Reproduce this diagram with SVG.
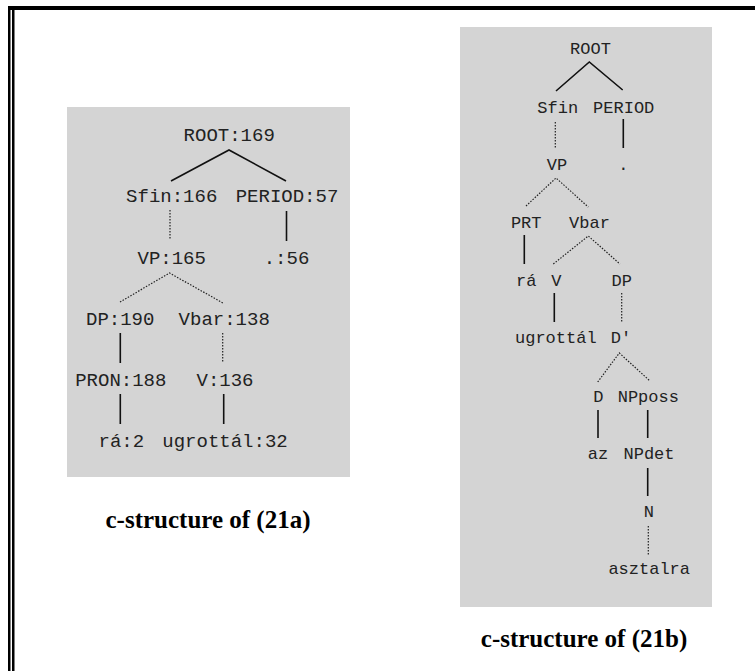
<svg xmlns="http://www.w3.org/2000/svg" width="755" height="671" viewBox="0 0 755 671">
<style>
.panel{fill:#d4d4d4}
.t1{font-family:"Liberation Mono","Courier New",monospace;font-size:19px;fill:#222;text-anchor:middle}
.t2{font-family:"Liberation Mono","Courier New",monospace;font-size:17px;fill:#222;text-anchor:middle}
.cap{font-family:"Liberation Serif","Times New Roman",serif;font-weight:bold;font-size:25px;fill:#000;text-anchor:middle}
.solid{stroke:#111;stroke-width:1.6;fill:none}
.dot{stroke:#222;stroke-width:1.2;stroke-dasharray:1.5 1.5;fill:none}
.frame{fill:#000}
</style>
<rect width="755" height="671" fill="#fff"/>
<g id="frame">
<rect class="frame" x="8" y="6" width="747" height="4"/>
<rect class="frame" x="8" y="6" width="2.5" height="665"/>
<rect class="frame" x="12" y="10" width="2.5" height="661"/>
</g>
<rect class="panel" x="67" y="107" width="283" height="370"/>
<rect class="panel" x="460" y="27" width="252" height="580"/>
<g id="connectors">
<path class="solid" d="M171,181 L229,150 L286,181"/>
<path class="dot" d="M170,210 V240"/>
<path class="solid" d="M286.5,211 V241"/>
<path class="dot" d="M120,302 L169.5,273 L223,303"/>
<path class="solid" d="M120.3,333 V363"/>
<path class="dot" d="M222.7,333 V362"/>
<path class="solid" d="M120.3,394 V424"/>
<path class="solid" d="M223.7,394 V424"/>
<path class="solid" d="M556,91 L589.3,62 L622.7,90"/>
<path class="dot" d="M555.3,122 V148"/>
<path class="solid" d="M623.3,119 V148"/>
<path class="dot" d="M526,206 L556,178 L588.3,207"/>
<path class="solid" d="M524.3,235 V264"/>
<path class="dot" d="M553.3,264 L588.3,236 L620,264"/>
<path class="solid" d="M554.3,293 V322"/>
<path class="dot" d="M621.7,293 V322"/>
<path class="dot" d="M597.7,382 L619.3,353 L650,381"/>
<path class="solid" d="M598,410 V438"/>
<path class="solid" d="M647.7,410 V438"/>
<path class="solid" d="M647.7,468 V496"/>
<path class="dot" d="M648.3,526 V555"/>
</g>
<g id="tree-a">
<g id="a-root"><text class="t1" x="229.2" y="141">ROOT:169</text></g>
<g id="a-sfin"><text class="t1" x="171.7" y="202">Sfin:166</text></g>
<g id="a-period"><text class="t1" x="287" y="202">PERIOD:57</text></g>
<g id="a-vp"><text class="t1" x="171.7" y="264">VP:165</text></g>
<g id="a-dot"><text class="t1" x="286.5" y="264">.:56</text></g>
<g id="a-dp"><text class="t1" x="120.2" y="325">DP:190</text></g>
<g id="a-vbar"><text class="t1" x="224.2" y="325">Vbar:138</text></g>
<g id="a-pron"><text class="t1" x="120.8" y="386">PRON:188</text></g>
<g id="a-v"><text class="t1" x="225" y="386">V:136</text></g>
<g id="a-ra"><text class="t1" x="121.3" y="447">rá:2</text></g>
<g id="a-ugrottal"><text class="t1" x="225" y="447">ugrottál:32</text></g>
</g>
<g id="tree-b">
<g id="b-root"><text class="t2" x="590.5" y="54">ROOT</text></g>
<g id="b-sfin"><text class="t2" x="557.7" y="113">Sfin</text></g>
<g id="b-period"><text class="t2" x="623.7" y="113">PERIOD</text></g>
<g id="b-vp"><text class="t2" x="557" y="170">VP</text></g>
<g id="b-dot"><text class="t2" x="623.3" y="170">.</text></g>
<g id="b-prt"><text class="t2" x="526.2" y="228">PRT</text></g>
<g id="b-vbar"><text class="t2" x="589.5" y="228">Vbar</text></g>
<g id="b-ra"><text class="t2" x="526.2" y="286">rá</text></g>
<g id="b-v"><text class="t2" x="556.3" y="286">V</text></g>
<g id="b-dp"><text class="t2" x="621.7" y="286">DP</text></g>
<g id="b-ugrottal"><text class="t2" x="555.8" y="343">ugrottál</text></g>
<g id="b-dbar"><text class="t2" x="621" y="343">D'</text></g>
<g id="b-d"><text class="t2" x="598.3" y="402">D</text></g>
<g id="b-npposs"><text class="t2" x="648.3" y="402">NPposs</text></g>
<g id="b-az"><text class="t2" x="598" y="459">az</text></g>
<g id="b-npdet"><text class="t2" x="649" y="459">NPdet</text></g>
<g id="b-n"><text class="t2" x="648.8" y="517">N</text></g>
<g id="b-asztalra"><text class="t2" x="649.2" y="574">asztalra</text></g>
</g>
<g id="captions">
<text class="cap" x="208" y="528">c-structure of (21a)</text>
<text class="cap" x="584" y="647">c-structure of (21b)</text>
</g>
</svg>
